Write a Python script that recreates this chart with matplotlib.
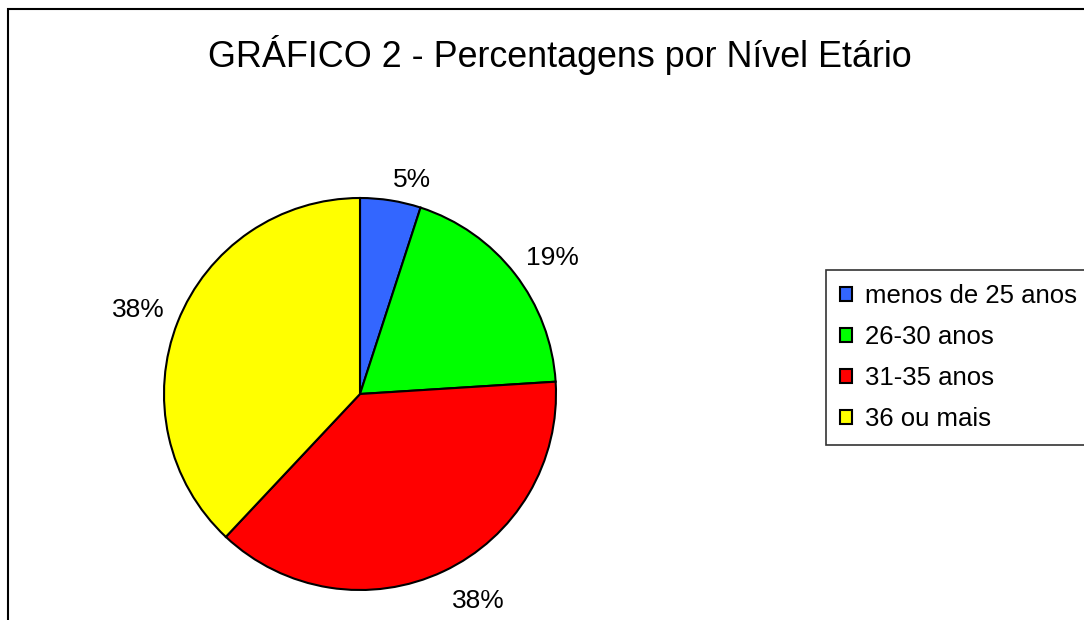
import matplotlib
matplotlib.use("Agg")
import numpy as np
import matplotlib.pyplot as plt
from matplotlib.patches import Rectangle

# data
labels = ["menos de 25 anos", "26-30 anos", "31-35 anos", "36 ou mais"]
values = [5, 19, 38, 38]
colors = ["#3366FF", "#00FF00", "#FF0000", "#FFFF00"]
title = "GRÁFICO 2 - Percentagens por Nível Etário"

plt.rcParams["font.family"] = ["Liberation Sans", "DejaVu Sans"]

W, H = 1084, 620
fig = plt.figure(figsize=(W / 100, H / 100), dpi=100)

# outer chart frame (runs off the right and bottom edges)
fig.patches.append(Rectangle((8 / W, -0.2), 1.2, 1.2 - 9 / H,
                             transform=fig.transFigure, fill=False,
                             edgecolor="black", linewidth=1.5))

R_PX = 196
ax = fig.add_axes([(360 - R_PX) / W, (H - 394 - R_PX) / H, 2 * R_PX / W, 2 * R_PX / H])
wedges, texts, autotexts = ax.pie(
    values, colors=colors, startangle=90, counterclock=False,
    autopct="%1.0f%%", pctdistance=1.2,
    wedgeprops=dict(edgecolor="black", linewidth=1.5),
    textprops=dict(fontsize=19),
)
ax.set_xlim(-1, 1)
ax.set_ylim(-1, 1)
ax.set_aspect("equal")

# anchor each percent label by its nearest corner just outside the rim
for w, t in zip(wedges, autotexts):
    a = np.deg2rad((w.theta1 + w.theta2) / 2)
    x, y = np.cos(a), np.sin(a)
    d = 1 + (14 if y >= 0 else 19) / R_PX
    t.set_position((d * x, d * y))
    t.set_ha("left" if x >= 0 else "right")
    t.set_va("baseline" if y >= 0 else "top")

fig.text(560 / W, 1 - 55 / H, title, fontsize=25.8, ha="center", va="center")

leg = fig.legend(wedges, labels, loc="upper left",
                 bbox_to_anchor=(826 / W, 1 - 270 / H),
                 fontsize=18.5, frameon=True, fancybox=False,
                 handlelength=0.47, handleheight=0.47, handletextpad=0.5,
                 labelspacing=0.66, borderpad=0.55, borderaxespad=0)
leg.get_frame().set_edgecolor("black")
leg.get_frame().set_linewidth(1.2)
for h in leg.legend_handles:
    h.set_edgecolor("black")
    h.set_linewidth(1.5)

fig.savefig("out.png", dpi=100)
